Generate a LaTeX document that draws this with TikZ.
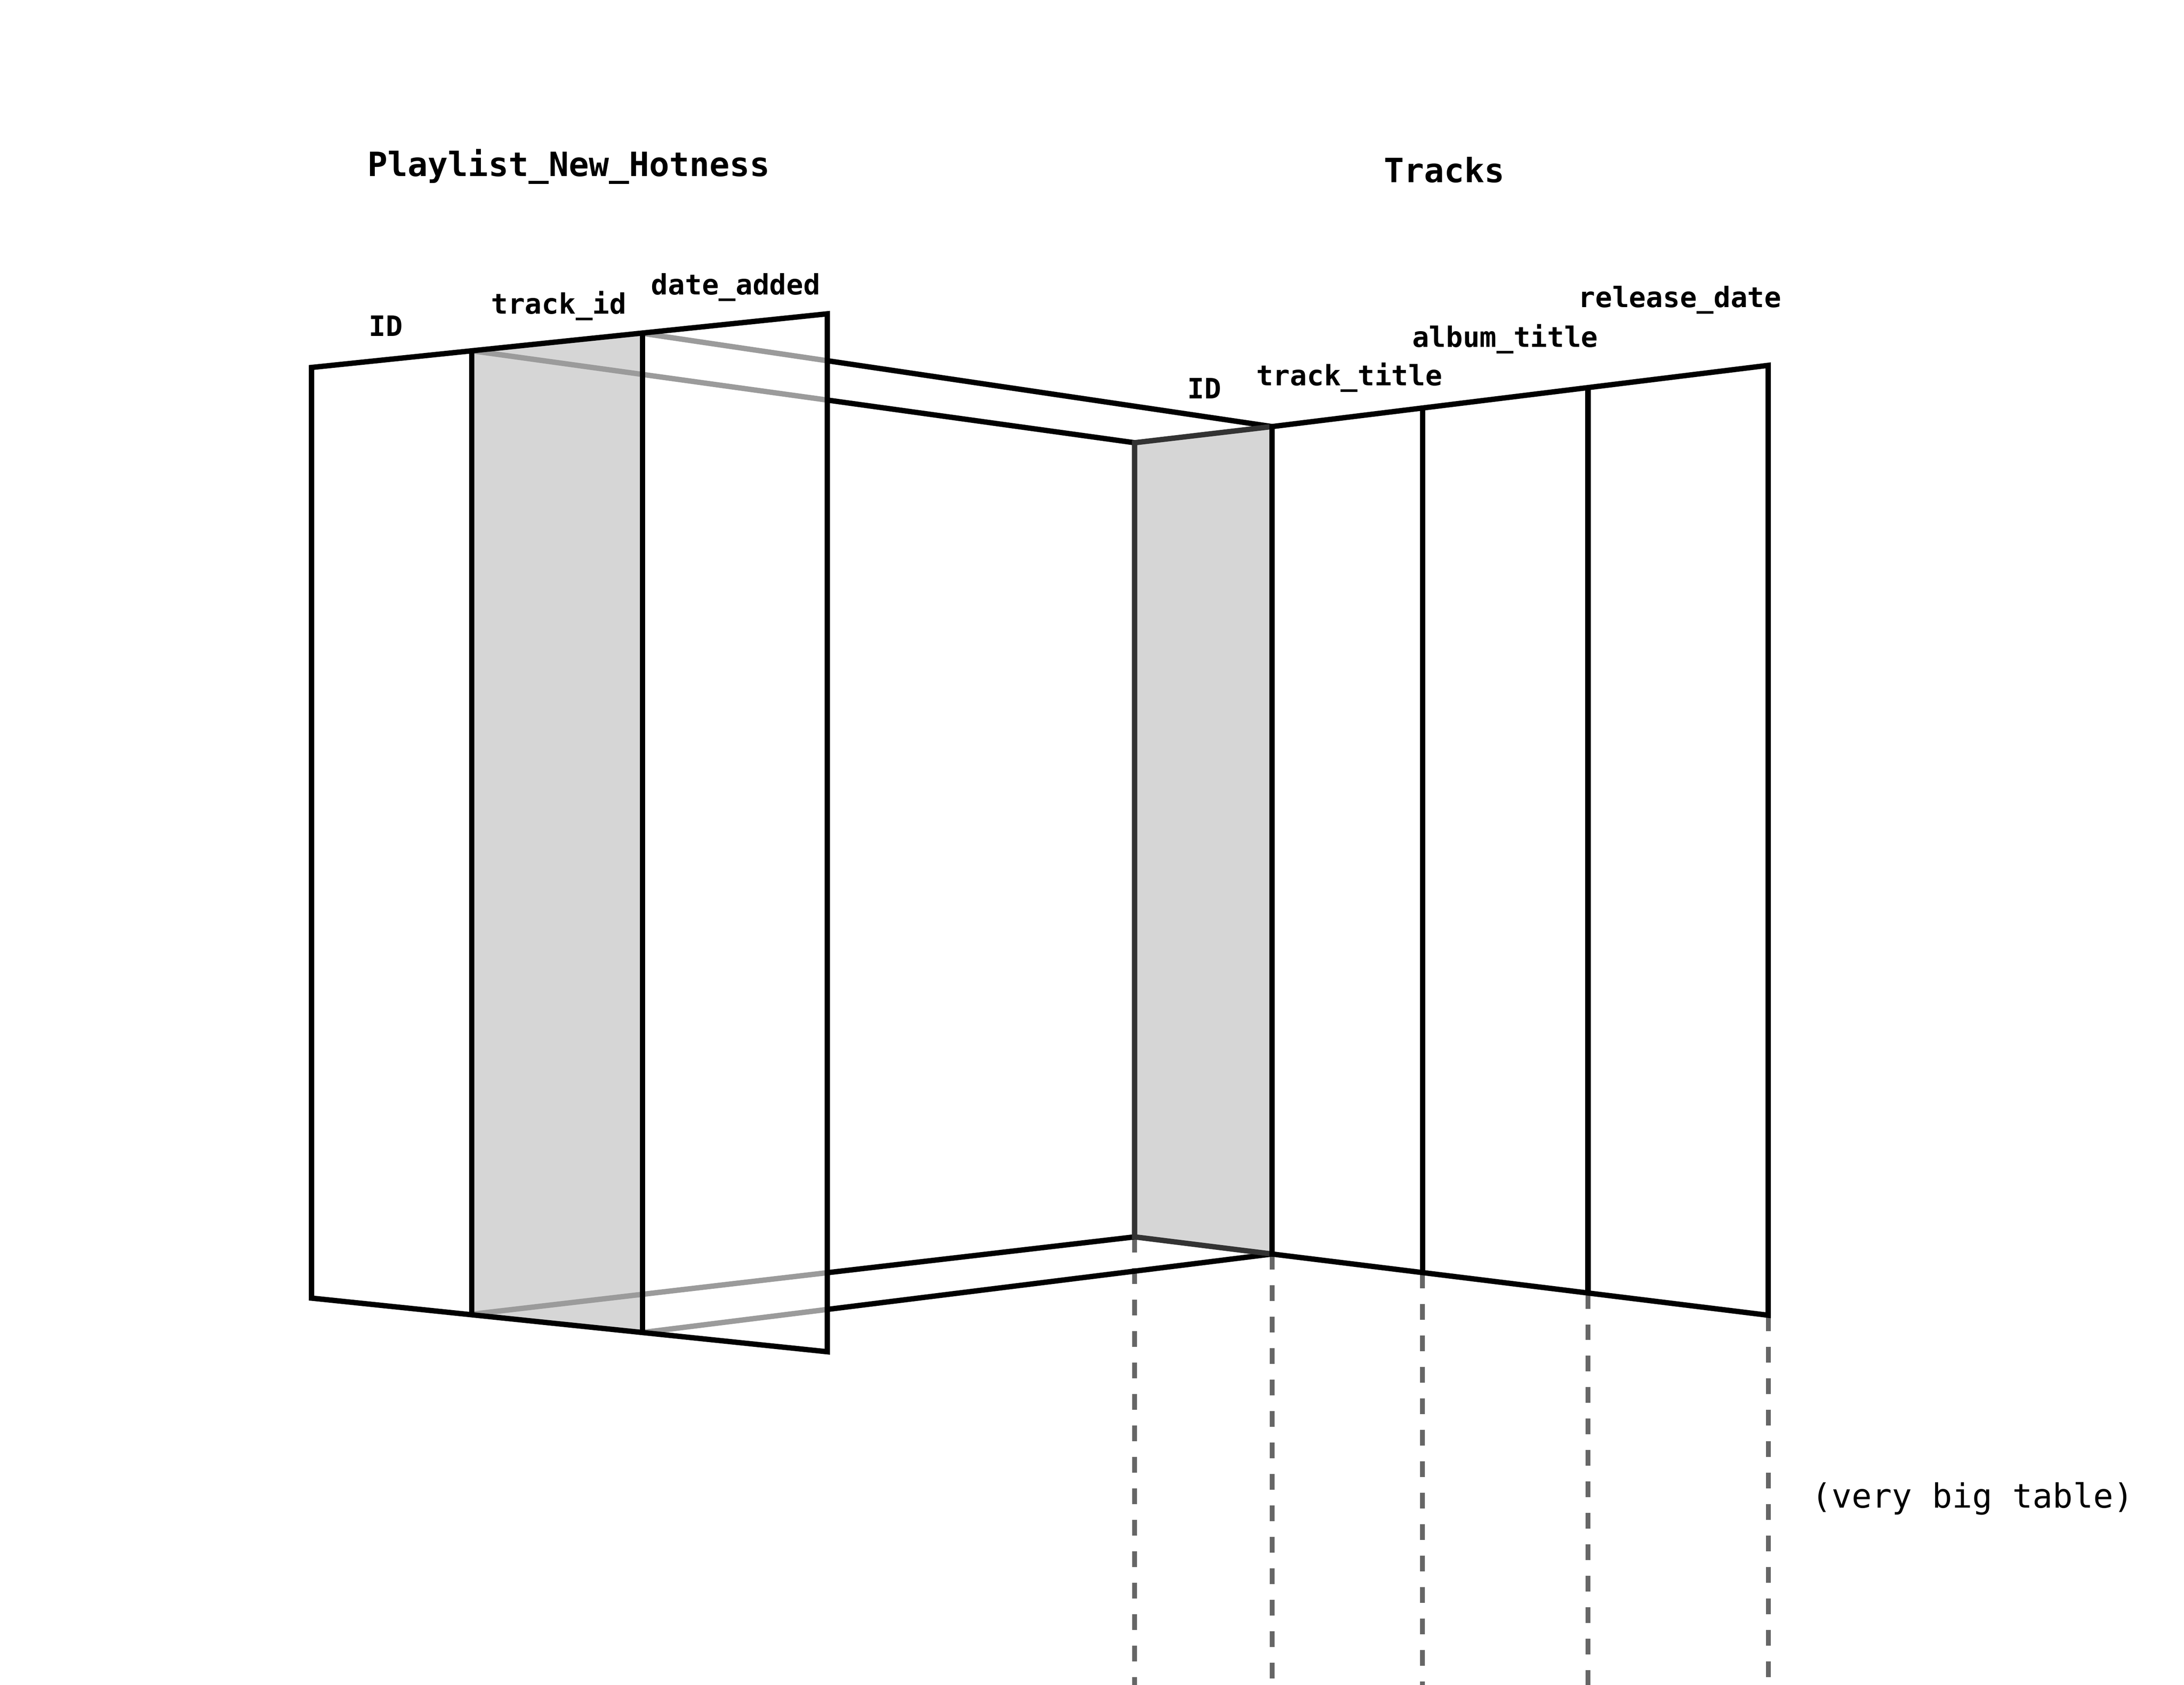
\documentclass[tikz,border=0pt]{standalone}
\usepackage{fontspec}
\setmonofont{DejaVu Sans Mono}

\tikzset{every picture/.style={line width=1.9pt}}
\tikzset{
	colhead/.style={font=\ttfamily\bfseries\fontsize{10}{12}\selectfont, anchor=base west, inner sep=0pt},
	tabtitle/.style={font=\ttfamily\bfseries\fontsize{11.9}{14}\selectfont, anchor=base west, inner sep=0pt},
	hidden/.style={color={rgb, 255:red, 155; green, 155; blue, 155 }},
	keyedge/.style={color={rgb, 255:red, 51; green, 51; blue, 51 }},
	keyfill/.style={fill={rgb, 255:red, 214; green, 214; blue, 214 }, draw opacity=0},
	dashline/.style={color={rgb, 255:red, 102; green, 102; blue, 102 }, line width=1.7pt, dash pattern=on 5.6pt off 5.6pt}}

\begin{document}
\begin{tikzpicture}[x=0.5pt,y=0.5pt,yscale=-1,xscale=1]
	\useasboundingbox (0,0) rectangle (1555.7,1200);

	% Corners: Playlist_New_Hotness
	\coordinate (pA-top) at (221.9,261.7);  \coordinate (pA-bot) at (221.9,924.5);
	\coordinate (pB-top) at (336,249.8);    \coordinate (pB-bot) at (336,936);
	\coordinate (pC-top) at (457.6,237.4);  \coordinate (pC-bot) at (457.6,949);
	\coordinate (pD-top) at (589.3,223.5);  \coordinate (pD-bot) at (589.3,962.7);
	% Corners: Tracks
	\coordinate (tA-top) at (808.2,315.3);  \coordinate (tA-bot) at (808.2,880.9);
	\coordinate (tB-top) at (906.1,303.8);  \coordinate (tB-bot) at (906.1,893.1);
	\coordinate (tC-top) at (1013.3,290.8); \coordinate (tC-bot) at (1013.3,906.2);
	\coordinate (tD-top) at (1131.1,276.3); \coordinate (tD-bot) at (1131.1,920.8);
	\coordinate (tE-top) at (1259.5,260.2); \coordinate (tE-bot) at (1259.5,936.7);
	\coordinate (floor) at (0,1200);

	% where the join lines leave the first table
	\coordinate (xB-top) at (intersection of pB-top--tA-top and pD-top--pD-bot);
	\coordinate (xC-top) at (intersection of pC-top--tB-top and pD-top--pD-bot);
	\coordinate (xB-bot) at (intersection of pB-bot--tA-bot and pD-top--pD-bot);
	\coordinate (xC-bot) at (intersection of pC-bot--tB-bot and pD-top--pD-bot);

	%Dashed continuation of Tracks
	\foreach \c in {tA,tB,tC,tD,tE}
		\draw [dashline] (\c-bot) -- (\c-bot |- floor);

	%Shaded key columns
	\fill [keyfill] (pB-top) -- (pC-top) -- (pC-bot) -- (pB-bot) -- cycle;
	\fill [keyfill] (tA-top) -- (tB-top) -- (tB-bot) -- (tA-bot) -- cycle;

	%Join lines, hidden part
	\draw [hidden] (pB-top) -- (xB-top);
	\draw [hidden] (pC-top) -- (xC-top);
	\draw [hidden] (pB-bot) -- (xB-bot);
	\draw [hidden] (pC-bot) -- (xC-bot);
	%Join lines, visible part
	\draw (xB-top) -- (tA-top);
	\draw (xC-top) -- (tB-top);
	\draw (xB-bot) -- (tA-bot);
	\draw (xC-bot) -- (tB-bot);

	%Shape: Playlist_New_Hotness
	\draw (pA-top) -- (pD-top) -- (pD-bot) -- (pA-bot) -- cycle;
	\draw (pB-top) -- (pB-bot);
	\draw (pC-top) -- (pC-bot);

	%Shape: Tracks
	\draw [keyedge] (tB-top) -- (tA-top) -- (tA-bot) -- (tB-bot);
	\draw (tB-top) -- (tE-top) -- (tE-bot) -- (tB-bot) -- cycle;
	\draw (tC-top) -- (tC-bot);
	\draw (tD-top) -- (tD-bot);

	% Text Node
	\node [tabtitle] (plname) at (260,125.5) {Playlist\_New\_Hotness};
	% Text Node
	\node [tabtitle] (trname) at (984,130) {Tracks};
	% Text Node
	\node [colhead] (plid) at (261,239.5) {ID};
	% Text Node
	\node [colhead] (pltrack) at (348,223.5) {track\_id};
	% Text Node
	\node [colhead] (pldate) at (462,209.7) {date\_added};
	% Text Node
	\node [colhead] (trid) at (844,284) {ID};
	% Text Node
	\node [colhead] (trtitle) at (893,274.7) {track\_title};
	% Text Node
	\node [colhead] (tralbum) at (1004,247.2) {album\_title};
	% Text Node
	\node [colhead] (trdate) at (1122.5,218.9) {release\_date};
	% Text Node
	\node [tabtitle, font=\ttfamily\fontsize{11.9}{14}\selectfont] (trnote) at (1288.5,1074) {(very big table)};

\end{tikzpicture}
\end{document}
